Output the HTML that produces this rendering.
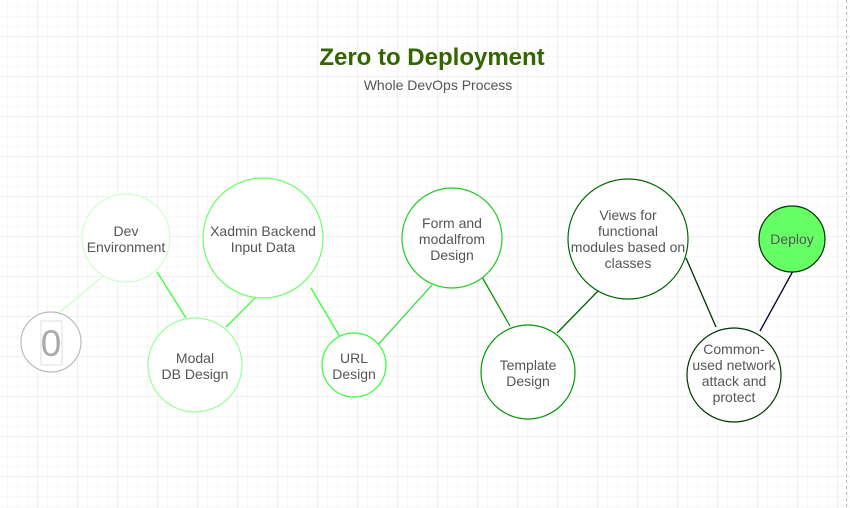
<!DOCTYPE html>
<html><head><meta charset="utf-8"><style>
html,body{margin:0;padding:0;background:#fff;}
svg{display:block;}
text{font-family:"Liberation Sans",Arial,sans-serif;fill:#555;font-size:14px;text-anchor:middle;}
</style></head><body>
<svg width="850" height="508" viewBox="0 0 850 508" xmlns="http://www.w3.org/2000/svg">
<defs>
<pattern id="minor" x="8" y="7" width="10" height="10" patternUnits="userSpaceOnUse">
<path d="M10 0V10M0 10H10" stroke="#f2f2f2" stroke-width="1" fill="none"/>
</pattern>
<pattern id="major" x="-2" y="-3" width="40" height="40" patternUnits="userSpaceOnUse">
<path d="M40 0V40M0 40H40" stroke="#e2e2e2" stroke-width="1" fill="none"/>
</pattern>
</defs>
<rect width="850" height="508" fill="url(#minor)"/>
<rect width="850" height="508" fill="url(#major)"/>
<line x1="846.5" y1="0" x2="846.5" y2="508" stroke="#bbb" stroke-dasharray="3,3"/>

<text x="432" y="65" style="font-size:24px;font-weight:bold;fill:#336600">Zero to Deployment</text>
<text x="438" y="90">Whole DevOps Process</text>

<g stroke-width="1.3" fill="none">
<line x1="60" y1="312" x2="102" y2="277" stroke="#ccffcc"/>
<line x1="157" y1="272" x2="186" y2="318" stroke="#33ff33"/>
<line x1="226" y1="327" x2="257" y2="296" stroke="#33ff33"/>
<line x1="311" y1="288" x2="340" y2="337" stroke="#33ff33"/>
<line x1="376" y1="347" x2="432" y2="285" stroke="#33dd33"/>
<line x1="482" y1="277" x2="510" y2="326" stroke="#009900"/>
<line x1="557" y1="333" x2="598" y2="291" stroke="#006600"/>
<line x1="686" y1="258" x2="716" y2="327" stroke="#003300"/>
<line x1="760" y1="331" x2="793" y2="271" stroke="#000033"/>
</g>

<g stroke-width="1.2">
<circle cx="51" cy="342" r="30" fill="#fff" stroke="#bbb"/>
<rect x="41" y="321" width="21" height="44" fill="none" stroke="#ddd" stroke-width="1"/>
<text x="51" y="356" style="font-size:37px;fill:#aaa">0</text>

<circle cx="126" cy="238" r="44" fill="#fff" stroke="#ccffcc"/>
<text x="126" y="236">Dev</text><text x="126" y="252">Environment</text>

<circle cx="195" cy="365" r="47" fill="#fff" stroke="#99ff99"/>
<text x="195" y="363">Modal</text><text x="195" y="379">DB Design</text>

<circle cx="263" cy="238" r="60" fill="#fff" stroke="#66ff66"/>
<text x="263" y="236">Xadmin Backend</text><text x="263" y="252">Input Data</text>

<circle cx="354" cy="365" r="32" fill="#fff" stroke="#33ff33"/>
<text x="354" y="363">URL</text><text x="354" y="379">Design</text>

<circle cx="452" cy="238" r="50" fill="#fff" stroke="#22cc22"/>
<text x="452" y="228">Form and</text><text x="452" y="244">modalfrom</text><text x="452" y="260">Design</text>

<circle cx="528" cy="372" r="47" fill="#fff" stroke="#009900"/>
<text x="528" y="370">Template</text><text x="528" y="386">Design</text>

<circle cx="628" cy="239" r="60" fill="#fff" stroke="#006600"/>
<text x="628" y="220">Views for</text><text x="628" y="236">functional</text><text x="628" y="252">modules based on</text><text x="628" y="268">classes</text>

<circle cx="734" cy="375" r="47" fill="#fff" stroke="#003300"/>
<text x="734" y="354">Common-</text><text x="734" y="370">used network</text><text x="734" y="386">attack and</text><text x="734" y="402">protect</text>

<circle cx="792" cy="239" r="33" fill="#66ff66" stroke="#003300"/>
<text x="792" y="244">Deploy</text>
</g>
</svg>
</body></html>
